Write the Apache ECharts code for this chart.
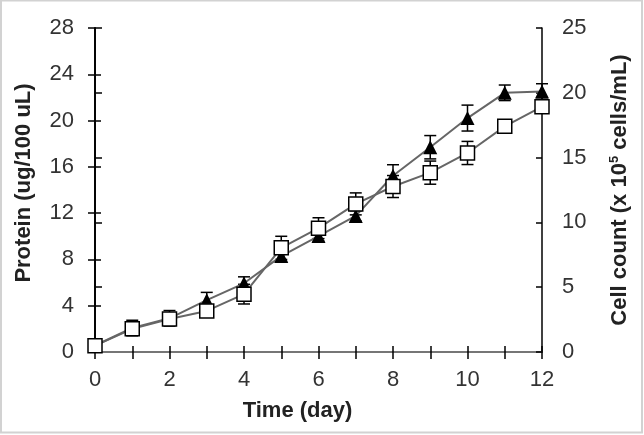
<!DOCTYPE html>
<html>
<head>
<meta charset="utf-8">
<script src="https://cdn.jsdelivr.net/npm/echarts@6/dist/echarts.min.js"></script>
<style>html,body{margin:0;padding:0;background:#fff}#c{width:644px;height:435px}</style>
</head>
<body>
<div id="c"></div>
<script>
var days = [0,1,2,3,4,5,6,7,8,9,10,11,12];
// Protein (ug/100 uL) - open squares, left axis
var protein = [0.55,2.0,2.85,3.55,5.0,9.0,10.7,12.8,14.3,15.5,17.2,19.5,21.2];
var proteinErr = [0.2,0.3,0.3,0.3,0.85,1.0,0.9,0.95,0.95,1.0,1.0,0.35,0.4];
// Cell count (x10^5 cells/mL) - filled triangles, right axis
var cells = [0.5,1.85,2.6,4.0,5.3,7.4,8.95,10.5,13.6,15.8,18.05,20.0,20.1];
var cellsErr = [0.2,0.6,0.6,0.6,0.5,0.4,0.4,0.4,0.85,0.9,1.0,0.6,0.6];
var leftTicks = {min:0,max:28,interval:4};
var rightTicks = {min:0,max:25,interval:5};
var xTicks = {min:0,max:12,interval:1};

function pairs(v){return days.map(function(d,i){return [d,v[i]];});}
function errData(v,e){return days.map(function(d,i){return [d,v[i]-e[i],v[i]+e[i]];});}

function errRender(params, api){
  var x = api.value(0), lo = api.value(1), hi = api.value(2);
  var p1 = api.coord([x, hi]), p2 = api.coord([x, lo]);
  var w = 6;
  var st = {stroke:'#000', lineWidth:1.5};
  return {type:'group', children:[
    {type:'line', shape:{x1:p1[0],y1:p1[1],x2:p2[0],y2:p2[1]}, style:st},
    {type:'line', shape:{x1:p1[0]-w,y1:p1[1],x2:p1[0]+w,y2:p1[1]}, style:st},
    {type:'line', shape:{x1:p2[0]-w,y1:p2[1],x2:p2[0]+w,y2:p2[1]}, style:st}
  ]};
}

var FONT = 'Liberation Sans';
var chart = echarts.init(document.getElementById('c'), null, {renderer:'canvas'});
var axisBase = {
  axisLine:{show:true,lineStyle:{color:'#000',width:1.5}},
  splitLine:{show:false}
};
chart.setOption({
  animation:false,
  backgroundColor:'#fff',
  textStyle:{fontFamily:FONT},
  grid:{left:95,right:102,top:28,bottom:83},
  graphic:[{type:'rect',shape:{x:1,y:0.5,width:641,height:432},style:{fill:'none',stroke:'#d2d2d2',lineWidth:2},silent:true}],
  xAxis:[
    Object.assign({}, axisBase, {
      type:'value', position:'bottom', min:xTicks.min, max:xTicks.max, interval:xTicks.interval,
      axisTick:{show:true,length:7,lineStyle:{color:'#000',width:1.5}},
      axisLabel:{margin:17,color:'#333',fontSize:22,fontFamily:FONT,
        formatter:function(v){return v%2===0?String(v):'';}},
      name:'Time (day)', nameLocation:'middle', nameGap:48,
      nameTextStyle:{fontFamily:FONT,fontWeight:'bold',fontSize:22,color:'#222',padding:[0,42,0,0]}
    }),
    Object.assign({}, axisBase, {
      type:'value', position:'bottom', min:xTicks.min, max:xTicks.max, interval:xTicks.interval,
      axisTick:{show:true,inside:true,length:6,lineStyle:{color:'#000',width:1.5}},
      axisLabel:{show:false}
    }),
    {type:'value', position:'top', min:xTicks.min, max:xTicks.max, interval:xTicks.interval,
      axisLine:{show:true,lineStyle:{color:'#999',width:1.5}}, axisTick:{show:false}, axisLabel:{show:false}, splitLine:{show:false}}
  ],
  yAxis:[
    Object.assign({}, axisBase, {
      type:'value', position:'left', min:leftTicks.min, max:leftTicks.max, interval:leftTicks.interval,
      axisTick:{show:true,length:7,lineStyle:{color:'#000',width:1.5}},
      axisLabel:{margin:21,color:'#333',fontSize:22,fontFamily:FONT},
      name:'Protein (ug/100 uL)', nameLocation:'middle', nameGap:60, nameRotate:90,
      nameTextStyle:{fontFamily:FONT,fontWeight:'bold',fontSize:22,color:'#222',padding:[0,0,0,14]}
    }),
    Object.assign({}, axisBase, {
      type:'value', position:'right', min:rightTicks.min, max:rightTicks.max, interval:rightTicks.interval,
      axisTick:{show:true,length:7,lineStyle:{color:'#000',width:1.5}},
      axisLabel:{margin:20,color:'#333',fontSize:22,fontFamily:FONT},
      name:'Cell count (x 10{s|5} cells/mL)', nameLocation:'middle', nameGap:66, nameRotate:90,
      nameTextStyle:{fontFamily:FONT,fontWeight:'bold',fontSize:22,color:'#222',
        rich:{s:{fontFamily:FONT,fontWeight:'bold',fontSize:13,color:'#222',verticalAlign:'top',padding:[0,0,10,0]}}}
    }),
    Object.assign({}, axisBase, {
      type:'value', position:'left', min:leftTicks.min, max:leftTicks.max, interval:leftTicks.interval,
      axisTick:{show:true,inside:true,length:6,lineStyle:{color:'#000',width:1.5}}, axisLabel:{show:false}
    }),
    Object.assign({}, axisBase, {
      type:'value', position:'right', min:rightTicks.min, max:rightTicks.max, interval:rightTicks.interval,
      axisTick:{show:true,inside:true,length:6,lineStyle:{color:'#000',width:1.5}}, axisLabel:{show:false}
    })
  ],
  series:[
    {type:'custom', xAxisIndex:0, yAxisIndex:1, renderItem:errRender, data:errData(cells,cellsErr), z:2},
    {type:'custom', xAxisIndex:0, yAxisIndex:0, renderItem:errRender, data:errData(protein,proteinErr), z:2},
    {type:'line', name:'Cell count', xAxisIndex:0, yAxisIndex:1, data:pairs(cells), z:3,
      lineStyle:{color:'#666',width:2}, symbol:'triangle', symbolSize:14,
      itemStyle:{color:'#000',borderColor:'#000',borderWidth:0}},
    {type:'line', name:'Protein', xAxisIndex:0, yAxisIndex:0, data:pairs(protein), z:4,
      lineStyle:{color:'#666',width:2}, symbol:'rect', symbolSize:14,
      itemStyle:{color:'#fff',borderColor:'#000',borderWidth:1.5}}
  ]
});
</script>
</body>
</html>
